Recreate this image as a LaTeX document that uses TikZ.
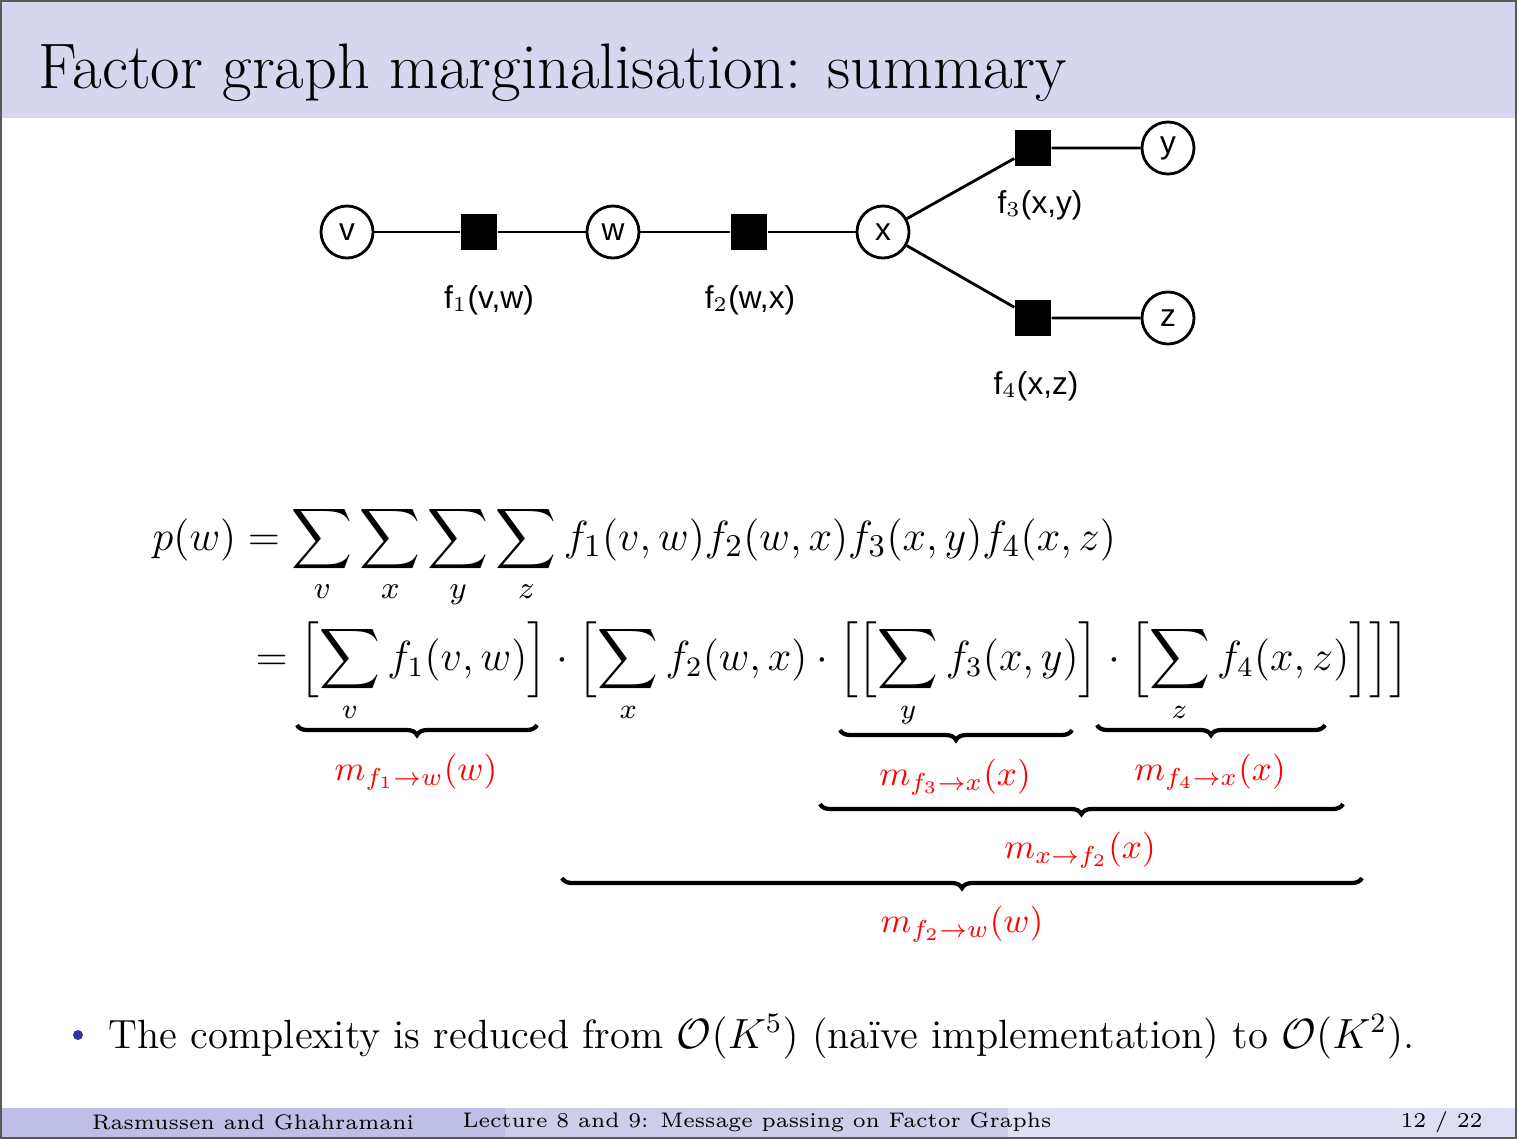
\documentclass[tikz,border=0pt]{standalone}
\usepackage{amsmath}
\usepackage{fontspec}
\newfontfamily\graphfont{Liberation Sans}
\usetikzlibrary{decorations.pathreplacing}
\definecolor{titlebg}{RGB}{214,214,238}
\definecolor{footdark}{RGB}{190,190,230}
\definecolor{footmid}{RGB}{205,205,236}
\definecolor{footlight}{RGB}{222,222,244}
\definecolor{bulletblue}{RGB}{50,50,170}
\tikzset{
  var/.style={circle, draw, thick, minimum size=0.52cm, inner sep=0pt, font=\graphfont\fontsize{9}{10}\selectfont},
  fac/.style={rectangle, fill=black, minimum size=0.36cm, inner sep=0pt},
  flabel/.style={font=\graphfont\fontsize{9}{10}\selectfont},
  edge/.style={thick},
  brc/.style={decorate, decoration={brace, mirror, amplitude=0.1cm}, line width=1.2pt},
  msg/.style={text=red, font=\fontsize{10}{12}\selectfont},
  eq/.style={anchor=base west, font=\fontsize{12.5}{15}\selectfont, inner sep=0pt},
}
\begin{document}
\begin{tikzpicture}[x=0.01cm, y=-0.01cm]
    \useasboundingbox (0,0) rectangle (1517,1139);
    % slide frame
    \fill[titlebg] (0,0) rectangle (1517,118);
    \node[anchor=base west, inner sep=0pt, font=\fontsize{18.3}{22}\selectfont] (title) at (38,88) {Factor graph marginalisation: summary};
    \fill[footdark] (0,1108) rectangle (505,1139);
    \fill[footmid] (505,1108) rectangle (1008,1139);
    \fill[footlight] (1008,1108) rectangle (1517,1139);
    \node[font=\fontsize{6}{7}\selectfont] (fauth) at (253,1122) {Rasmussen and Ghahramani};
    \node[font=\fontsize{6}{7}\selectfont] (flect) at (757,1122) {Lecture 8 and 9: Message passing on Factor Graphs};
    \node[anchor=east, font=\fontsize{6}{7}\selectfont] (fpage) at (1495,1122) {12 / 22};
    \draw[gray!70!black, line width=1pt] (0,0) rectangle (1517,1139);

    % factor graph
    \node[var] (v) at (347,232) {v};
    \node[fac] (f1) at (479,232) {};
    \node[var] (w) at (613,232) {w};
    \node[fac] (f2) at (749,232) {};
    \node[var] (x) at (883,232) {x};
    \node[fac] (f3) at (1033,148) {};
    \node[var] (y) at (1168,148) {y};
    \node[fac] (f4) at (1033,318) {};
    \node[var] (z) at (1168,318) {z};
    \draw[edge] (v) -- (f1) -- (w) -- (f2) -- (x);
    \draw[edge] (x) -- (f3) -- (y);
    \draw[edge] (x) -- (f4) -- (z);
    \node[flabel] (l1) at (489,300) {f$_1$(v,w)};
    \node[flabel] (l2) at (750,300) {f$_2$(w,x)};
    \node[flabel] (l3) at (1040,205) {f$_3$(x,y)};
    \node[flabel] (l4) at (1036,386) {f$_4$(x,z)};

    % equations
    \node[eq] (eq1) at (152,550) {$\displaystyle p(w) = \sum_v\sum_x\sum_y\sum_z f_1(v,w)f_2(w,x)f_3(x,y)f_4(x,z)$};
    \node[eq, font=\fontsize{12}{14}\selectfont] (eq2) at (255,670) {$\displaystyle = \Bigl[\sum_v f_1(v,w)\Bigr]\cdot\Bigl[\sum_x f_2(w,x)\cdot\Bigl[\Bigl[\sum_y f_3(x,y)\Bigr]\cdot\Bigl[\sum_z f_4(x,z)\Bigr]\Bigr]\Bigr]$};

    % braces and messages
    \draw[brc] (297,725) -- (537,725);
    \node[msg] (m1) at (416,772) {$m_{f_1\to w}(w)$};
    \draw[brc] (840,730) -- (1072,730);
    \node[msg] (m3) at (955,777) {$m_{f_3\to x}(x)$};
    \draw[brc] (1097,725) -- (1325,725);
    \node[msg] (m4) at (1210,772) {$m_{f_4\to x}(x)$};
    \draw[brc] (820,804) -- (1343,804);
    \node[msg] (mx) at (1080,850) {$m_{x\to f_2}(x)$};
    \draw[brc] (562,878) -- (1362,878);
    \node[msg] (m2) at (962,924) {$m_{f_2\to w}(w)$};

    % bullet
    \fill[bulletblue] (78,1035) circle (5);
    \node[anchor=base west, inner sep=0pt, font=\fontsize{11.6}{14}\selectfont] (bul) at (108,1048) {The complexity is reduced from $\mathcal{O}(K^5)$ (na\"ive implementation) to $\mathcal{O}(K^2)$.};
\end{tikzpicture}
\end{document}
